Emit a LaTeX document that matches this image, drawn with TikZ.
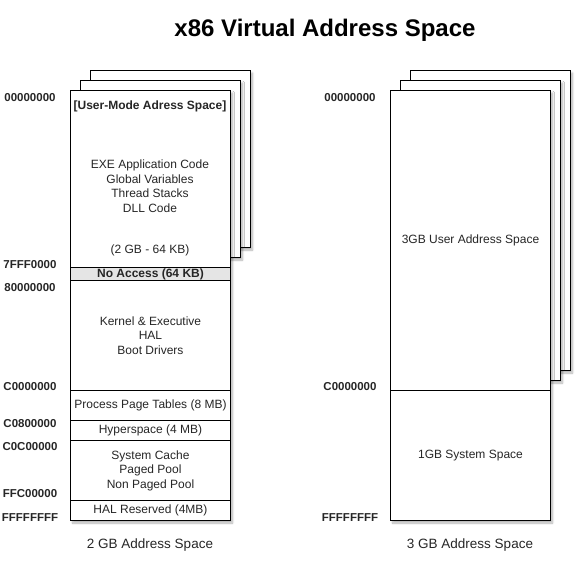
\documentclass[tikz,border=0pt]{standalone}
\usepackage{fontspec}
\setmainfont{Liberation Sans}
\usetikzlibrary{shadows.blur}
\newcommand\addrlab[4]{\node[lbl] (#1) at (#2,#3) {#4};}
\begin{document}
\begin{tikzpicture}[x=1pt,y=-1pt,
  boxshadow/.style={blur shadow={shadow xshift=2pt, shadow yshift=-2.5pt, shadow opacity=30, shadow blur steps=6, shadow blur radius=2pt}},
  page/.style={draw=black, fill=white, line width=1pt, minimum width=160pt, inner sep=0pt, anchor=north west, boxshadow},
  region/.style={draw=black, fill=white, line width=1pt, minimum width=160pt, inner sep=0pt, anchor=north west, align=center, font=\fontsize{12}{14.5}\selectfont, text=black!85},
  txt/.style={inner sep=0pt, align=center, font=\fontsize{12}{14.5}\selectfont, text=black!85},
  lbl/.style={inner sep=0pt, font=\fontsize{11.5}{13}\selectfont\bfseries, text=black!85},
  caption/.style={inner sep=0pt, font=\fontsize{13.5}{16}\selectfont, text=black!85}
]
\useasboundingbox (0,0) rectangle (582,572);

% title
\node[inner sep=0pt, font=\fontsize{24}{28}\selectfont\bfseries] (title) at (325,30) {x86 Virtual Address Space};

% ---------- left stack ----------
\node[page, minimum height=177pt] (lp2) at (90,70) {};
\node[page, minimum height=177pt] (lp1) at (80,80) {};
\node[page, minimum height=430pt] (lmain) at (70,90) {};
\node[region, minimum height=177pt] (lu) at (70,90) {};
\node[region, minimum height=13pt, fill=black!10, font=\fontsize{12}{14.5}\selectfont\bfseries] (lna) at (70,267) {No Access (64 KB)};
\node[region, minimum height=110pt] (lk) at (70,280) {Kernel \& Executive\\HAL\\Boot Drivers};
\node[region, minimum height=30pt] (lpt) at (70,390) {Process Page Tables (8 MB)};
\node[region, minimum height=20pt] (lhy) at (70,420) {Hyperspace (4 MB)};
\node[region, minimum height=60pt] (lsc) at (70,440) {System Cache\\Paged Pool\\Non Paged Pool};
\node[region, minimum height=20pt] (lhal) at (70,500) {HAL Reserved (4MB)};

\node[txt, font=\fontsize{12}{14.5}\selectfont\bfseries] (tum) at (150,106) {[User-Mode Adress Space]};
\node[txt] (texe) at (150,186) {EXE Application Code\\Global Variables\\Thread Stacks\\DLL Code};
\node[txt] (t2gb) at (150,250) {(2 GB - 64 KB)};

\addrlab{a1}{30}{98}{00000000}
\addrlab{a2}{30}{265}{7FFF0000}
\addrlab{a3}{30}{288}{80000000}
\addrlab{a4}{30}{387}{C0000000}
\addrlab{a5}{30}{424}{C0800000}
\addrlab{a6}{30}{447}{C0C00000}
\addrlab{a7}{30}{494}{FFC00000}
\addrlab{a8}{30}{518}{FFFFFFFF}

\node[caption] (lcap) at (150,545) {2 GB Address Space};

% ---------- right stack ----------
\node[page, minimum height=300pt] (rp2) at (410,70) {};
\node[page, minimum height=300pt] (rp1) at (400,80) {};
\node[page, minimum height=430pt] (rmain) at (390,90) {};
\node[region, minimum height=300pt] (ru) at (390,90) {3GB User Address Space};
\node[region, minimum height=130pt] (rs) at (390,390) {1GB System Space};

\addrlab{b1}{350}{98}{00000000}
\addrlab{b2}{350}{387}{C0000000}
\addrlab{b3}{350}{518}{FFFFFFFF}

\node[caption] (rcap) at (470,545) {3 GB Address Space};
\end{tikzpicture}
\end{document}
